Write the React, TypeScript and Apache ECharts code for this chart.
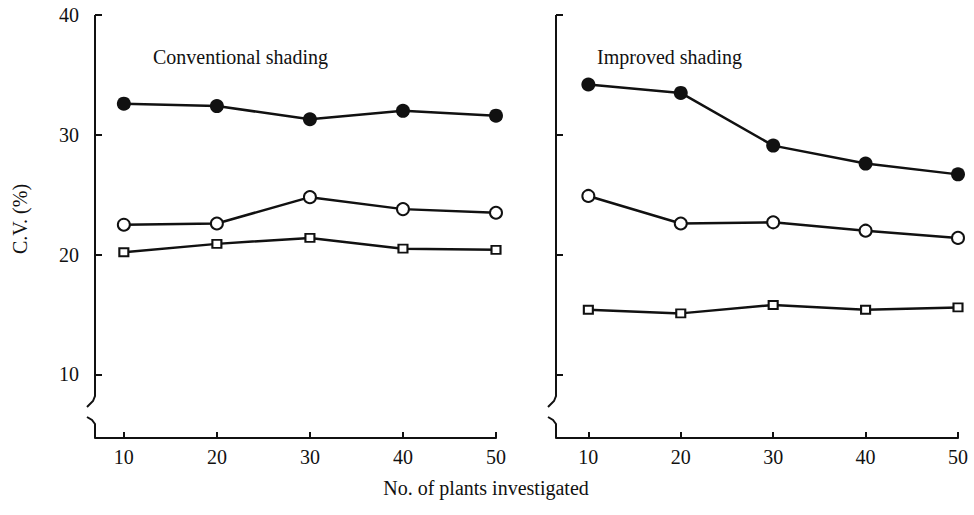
import React, { useEffect, useRef } from "react";
import * as echarts from "echarts";

const plantCounts = [10, 20, 30, 40, 50];
const yTickValues = [10, 20, 30, 40];
const convFilled = [32.6, 32.4, 31.3, 32.0, 31.6];
const convOpen = [22.5, 22.6, 24.8, 23.8, 23.5];
const convSquare = [20.2, 20.9, 21.4, 20.5, 20.4];
const impFilled = [34.2, 33.5, 29.1, 27.6, 26.7];
const impOpen = [24.9, 22.6, 22.7, 22.0, 21.4];
const impSquare = [15.4, 15.1, 15.8, 15.4, 15.6];

const panelTitles = ["Conventional shading", "Improved shading"];
const xTitle = "No. of plants investigated";
const yTitle = "C.V. (%)";

const FONT = "'Liberation Serif', 'DejaVu Serif', serif";
const INK = "#111";
const Y_MIN = 4.7;
const Y_MAX = 40;

export default function App() {
  const ref = useRef<HTMLDivElement>(null);
  useEffect(() => {
    if (!ref.current) return;
    const chart = echarts.init(ref.current, null, { renderer: "svg" });
    const pair = (xs: number[], ys: number[]) => xs.map((x, i) => [x, ys[i]]);

    const xAxisBase = (min: number, gridIndex: number) => ({
      type: "value" as const,
      gridIndex,
      min,
      max: 50,
      axisLine: { show: true, lineStyle: { color: INK, width: 2 } },
      axisTick: { show: true, inside: true, length: 6, customValues: plantCounts, lineStyle: { color: INK, width: 2 } },
      axisLabel: { show: true, customValues: plantCounts, fontFamily: FONT, fontSize: 20, color: INK, margin: 9 },
      splitLine: { show: false },
    });
    const yAxisBase = (gridIndex: number, labels: boolean) => ({
      type: "value" as const,
      gridIndex,
      min: Y_MIN,
      max: Y_MAX,
      axisLine: { show: false },
      axisTick: { show: true, inside: true, length: 7, customValues: yTickValues, lineStyle: { color: INK, width: 2 } },
      axisLabel: { show: labels, customValues: yTickValues, fontFamily: FONT, fontSize: 20, color: INK, margin: 16 },
      splitLine: { show: false },
    });

    const filled = (data: number[], idx: number) => ({
      type: "line" as const,
      xAxisIndex: idx,
      yAxisIndex: idx,
      data: pair(plantCounts, data),
      symbol: "circle",
      symbolSize: 14,
      lineStyle: { color: INK, width: 2.5 },
      itemStyle: { color: INK, borderColor: INK, borderWidth: 0 },
    });
    const open = (data: number[], idx: number) => ({
      type: "line" as const,
      xAxisIndex: idx,
      yAxisIndex: idx,
      data: pair(plantCounts, data),
      symbol: "circle",
      symbolSize: 12,
      lineStyle: { color: INK, width: 2.5 },
      itemStyle: { color: "#fff", borderColor: INK, borderWidth: 2 },
    });
    const square = (data: number[], idx: number) => ({
      type: "line" as const,
      xAxisIndex: idx,
      yAxisIndex: idx,
      data: pair(plantCounts, data),
      symbol: "rect",
      symbolSize: [9, 8],
      lineStyle: { color: INK, width: 2.5 },
      itemStyle: { color: "#fff", borderColor: INK, borderWidth: 2 },
    });

    chart.setOption({
      animation: false,
      backgroundColor: "#fff",
      grid: [
        { left: 95, top: 15, width: 401, height: 423 },
        { left: 556, top: 15, width: 402, height: 423 },
      ],
      xAxis: [xAxisBase(6.9, 0), xAxisBase(6.5, 1)],
      yAxis: [yAxisBase(0, true), yAxisBase(1, false)],
      series: [
        filled(convFilled, 0),
        open(convOpen, 0),
        square(convSquare, 0),
        filled(impFilled, 1),
        open(impOpen, 1),
        square(impSquare, 1),
      ],
    });

    const graphics: any[] = [];
    [0, 1].forEach((g) => {
      const xmin = g === 0 ? 6.9 : 6.5;
      const bl = chart.convertToPixel({ gridIndex: g }, [xmin, Y_MIN]) as number[];
      const tl = chart.convertToPixel({ gridIndex: g }, [xmin, Y_MAX]) as number[];
      const x0 = bl[0];
      const bottom = bl[1];
      const top = tl[1];
      const ls = { stroke: INK, lineWidth: 2, fill: "none" };
      graphics.push({
        type: "polyline",
        shape: { points: [[x0, top], [x0, bottom - 42], [x0 - 2, bottom - 37], [x0 - 8, bottom - 31]] },
        style: ls,
      });
      graphics.push({
        type: "polyline",
        shape: { points: [[x0 - 8, bottom - 21], [x0 - 3, bottom - 18], [x0, bottom - 14], [x0, bottom]] },
        style: ls,
      });
    });

    const f = `20px ${FONT}`;
    graphics.push(
      { type: "text", x: 153, y: 57, style: { text: panelTitles[0], font: f, fill: INK, textVerticalAlign: "middle" } },
      { type: "text", x: 597, y: 57, style: { text: panelTitles[1], font: f, fill: INK, textVerticalAlign: "middle" } },
      { type: "text", x: 486, y: 488, style: { text: xTitle, font: f, fill: INK, textAlign: "center", textVerticalAlign: "middle" } },
      { type: "text", x: 20, y: 219, rotation: Math.PI / 2, style: { text: yTitle, font: f, fill: INK, textAlign: "center", textVerticalAlign: "middle" } }
    );
    chart.setOption({ graphic: graphics });

    return () => chart.dispose();
  }, []);
  return <div ref={ref} style={{ position: "fixed", left: 0, top: 0, width: 974, height: 515 }} />;
}
